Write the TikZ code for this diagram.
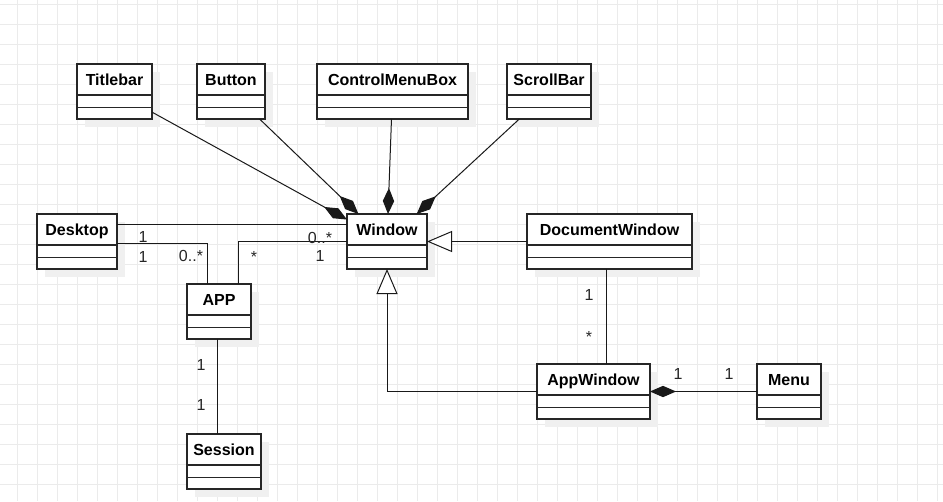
\documentclass[tikz,border=0pt]{standalone}
\usepackage{fontspec}
\setmainfont{Liberation Sans}
\usetikzlibrary{arrows.meta,calc,fit}
\tikzset{
  gridline/.style={line width=0.75pt, draw=black!8},
  clsbox/.style={draw=black!85, line width=0.9pt, fill=white, inner sep=0pt, outer sep=0pt},
  clsline/.style={draw=black!85, line width=0.9pt},
  shadowbox/.style={fill=black!6},
  clstext/.style={font=\fontsize{12}{14}\selectfont\bfseries, inner sep=0pt, text height=8.6pt, text depth=0pt},
  conn/.style={draw=black!90, line width=0.75pt},
  comp/.style={conn, -{Diamond[length=19.5pt,width=8.5pt]}},
  inh/.style={conn, -{Triangle[length=18.75pt,width=15.75pt,fill=white]}},
  lbl/.style={font=\fontsize{12}{14}\selectfont, text=black!85, inner sep=0pt, text height=8.6pt, text depth=0pt},
}
\newcommand{\umlclass}[6]{%
  \fill[shadowbox] (#2+8,#3+8) rectangle (#4+8,#5+8);
  \node[clsbox, fit={(#2,#3) (#4,#5)}] (#1) {};
  \draw[clsline] (#2,#3+31) -- (#4,#3+31);
  \draw[clsline] (#2,#3+43.5) -- (#4,#3+43.5);
  \node[clstext] (#1-t) at ({(#2+#4)/2},{#3+15.5}) {#6};
}
\begin{document}
\begin{tikzpicture}[x=0.75pt,y=-0.75pt]
\useasboundingbox (0,0) rectangle (943,501);
\fill[white] (0,0) rectangle (943,501);
\foreach \gx in {17,37,...,937} \draw[gridline] (\gx,0) -- (\gx,501);
\foreach \gy in {4,24,...,484} \draw[gridline] (0,\gy) -- (943,\gy);

\umlclass{titlebar}{77}{64}{152}{119}{Titlebar}
\umlclass{button}{197}{64}{265}{119}{Button}
\umlclass{cmb}{317}{64}{468}{119}{ControlMenuBox}
\umlclass{scrollbar}{507}{64}{591}{119}{ScrollBar}
\umlclass{desktop}{37}{214}{117}{269}{Desktop}
\umlclass{window}{347}{214}{427}{269}{Window}
\umlclass{docwin}{527}{214}{692}{269}{DocumentWindow}
\umlclass{app}{187}{284}{251}{339}{APP}
\umlclass{appwin}{537}{364}{650}{419}{AppWindow}
\umlclass{menu}{757}{364}{821}{419}{Menu}
\umlclass{session}{187}{434}{261}{489}{Session}

\draw[comp] (titlebar) -- (window);
\draw[comp] (button) -- (window);
\draw[comp] (cmb) -- (window);
\draw[comp] (scrollbar) -- (window);
\draw[conn] ($(desktop.north east)+(0,10)$) -- ($(window.north west)+(0,10)$);
\draw[conn] ($(desktop.north east)+(0,29)$) -| ($(app.north west)+(20,0)$);
\draw[conn] ($(app.north west)+(51,0)$) |- (window.west);
\draw[inh] (docwin.west) -- (window.east);
\draw[inh] (appwin.west) -| (window.south);
\draw[conn] ($(docwin.south west)+(79,0)$) -- ($(appwin.north west)+(69,0)$);
\draw[comp] (menu) -- (appwin);
\draw[conn] ($(app.south west)+(30,0)$) -- ($(session.north west)+(30,0)$);

\node[lbl] (l1) at (143,237) {1};
\node[lbl] (l2) at (143,257) {1};
\node[lbl] (l3) at (191,256) {0..*};
\node[lbl] (l4) at (254,256.5) {*};
\node[lbl] (l5) at (320,238) {0..*};
\node[lbl] (l6) at (320,256) {1};
\node[lbl] (l7) at (589,295) {1};
\node[lbl] (l8) at (589,336.5) {*};
\node[lbl] (l9) at (678,374) {1};
\node[lbl] (l10) at (729,374) {1};
\node[lbl] (l11) at (201,365) {1};
\node[lbl] (l12) at (201,405) {1};
\end{tikzpicture}
\end{document}
